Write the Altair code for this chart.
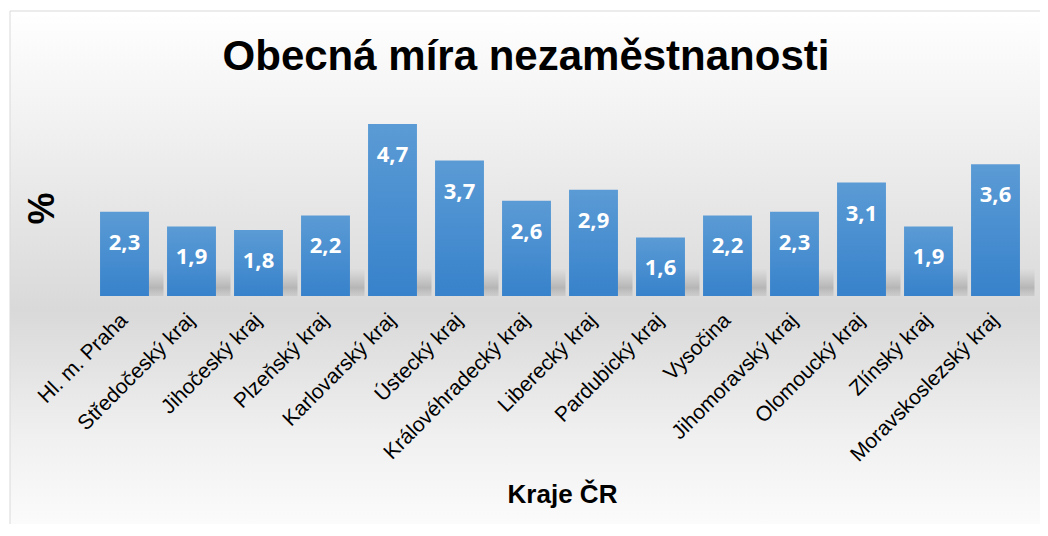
import altair as alt
import pandas as pd

regions = ["Hl. m. Praha", "Středočeský kraj", "Jihočeský kraj", "Plzeňský kraj",
           "Karlovarský kraj", "Ústecký kraj", "Královéhradecký kraj", "Liberecký kraj",
           "Pardubický kraj", "Vysočina", "Jihomoravský kraj", "Olomoucký kraj",
           "Zlínský kraj", "Moravskoslezský kraj"]
values = [2.3, 1.9, 1.8, 2.2, 4.7, 3.7, 2.6, 2.9, 1.6, 2.2, 2.3, 3.1, 1.9, 3.6]
title_text = "Obecná míra nezaměstnanosti"

df = pd.DataFrame({"kraj": regions, "v": values})

W, H = 938, 183

xenc = alt.X("kraj:N", sort=regions, scale=alt.Scale(paddingInner=0.27, paddingOuter=0.135),
             axis=alt.Axis(labelAngle=-45, labelAlign="right", labelBaseline="middle",
                           labelFont="Liberation Sans", labelFontSize=21, labelColor="#000000",
                           labelPadding=21, labelLimit=400, domain=False, ticks=False, grid=False,
                           zindex=2,
                           title="Kraje ČR", titleFont="Liberation Sans", titleFontSize=26,
                           titleFontWeight="bold", titleColor="#000000",
                           titleX=471, titleY=198, titleBaseline="middle", titleAlign="center"))
yaxis = alt.Axis(labels=False, ticks=False, domain=False, grid=False, zindex=2,
                 title="%", titleFont="Liberation Sans", titleFontSize=36,
                 titleFontWeight="bold", titleColor="#000000",
                 titleX=-49, titleY=95, titleAlign="center", titleBaseline="middle")
yscale = alt.Scale(domain=[0, 5], nice=False)

bg_grad = alt.LinearGradient(gradient="linear", x1=0, x2=0, y1=0, y2=1, stops=[
    alt.GradientStop(color="#ffffff", offset=0.0),
    alt.GradientStop(color="#f3f3f3", offset=0.18),
    alt.GradientStop(color="#d9d9d9", offset=0.55),
    alt.GradientStop(color="#f0f0f0", offset=0.78),
    alt.GradientStop(color="#ffffff", offset=1.0),
])

background = alt.Chart(pd.DataFrame({"k": [0]})).mark_rect(
    fill=bg_grad, stroke="#d9d9d9", strokeWidth=1
).encode(
    x=alt.value(-81), x2=alt.value(W + 60),
    y=alt.value(-102), y2=alt.value(H + 260)
)

shadow_grad = alt.LinearGradient(gradient="linear", x1=0, x2=0, y1=0, y2=1, stops=[
    alt.GradientStop(color="rgba(160,160,160,0)", offset=0.0),
    alt.GradientStop(color="rgba(150,150,150,0.55)", offset=0.7),
    alt.GradientStop(color="rgba(170,170,170,0.3)", offset=1.0),
])

shadow = alt.Chart(df).mark_bar(fill=shadow_grad, xOffset=9, size=60).encode(
    x=xenc,
    y=alt.Y("s0:Q", scale=yscale, axis=yaxis),
    y2="s1:Q",
).transform_calculate(s0="0.75", s1="0")

bar_grad = alt.LinearGradient(gradient="linear", x1=0, x2=0, y1=0, y2=1, stops=[
    alt.GradientStop(color="#5b9bd5", offset=0.0),
    alt.GradientStop(color="#3782cb", offset=1.0),
])

bars = alt.Chart(df).mark_bar(fill=bar_grad).encode(
    x=xenc,
    y=alt.Y("v:Q", scale=yscale, axis=yaxis),
)

labels = alt.Chart(df).mark_text(
    color="#ffffff", font="Open Sans", fontWeight="bold", fontSize=22, dy=31, baseline="middle"
).encode(
    x=alt.X("kraj:N", sort=regions),
    y=alt.Y("v:Q", scale=yscale),
    text="lab:N",
).transform_calculate(lab="replace(format(datum.v, '.1f'), '.', ',')")

title = alt.Chart(pd.DataFrame({"t": [title_text]})).mark_text(
    font="Liberation Sans", fontSize=42, fontWeight="bold", color="#000000",
    align="center", baseline="alphabetic"
).encode(x=alt.value(435), y=alt.value(-43), text="t:N")

chart = alt.layer(background, shadow, bars, labels, title).properties(
    width=W, height=H,
    autosize=alt.AutoSizeParams(type="none"),
    padding={"left": 83, "top": 105, "right": 11, "bottom": 228},
).configure_view(stroke=None).configure(background="#ffffff")

chart.save("out.html", embed_options={"renderer": "svg", "actions": False})
